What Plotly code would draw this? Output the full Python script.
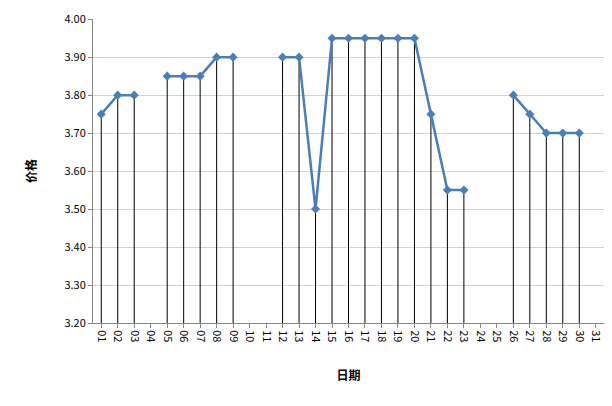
import plotly.graph_objects as go

days = ["%02d" % d for d in range(1, 32)]
price = [3.75, 3.80, 3.80, None, 3.85, 3.85, 3.85, 3.90, 3.90, None, None,
         3.90, 3.90, 3.50, 3.95, 3.95, 3.95, 3.95, 3.95, 3.95, 3.75, 3.55,
         3.55, None, None, 3.80, 3.75, 3.70, 3.70, 3.70, None]
ticks_y = [3.2, 3.3, 3.4, 3.5, 3.6, 3.7, 3.8, 3.9, 4.0]
base = 3.20

drop = [None if p is None else p - base for p in price]

fig = go.Figure()
fig.add_trace(go.Scatter(
    x=days, y=price, mode="lines+markers",
    line=dict(color="#4a7ebb", width=2.5),
    marker=dict(symbol="diamond", size=7, color="#4a7ebb"),
    error_y=dict(type="data", symmetric=False, array=[0] * 31,
                 arrayminus=drop, color="black", thickness=1, width=0),
    connectgaps=False,
))

font = "Noto Sans CJK SC"
fig.update_layout(
    width=612, height=406, showlegend=False,
    paper_bgcolor="white", plot_bgcolor="white",
    margin=dict(l=85, r=16, t=11, b=91),
    font=dict(family=font, size=11, color="black"),
    xaxis=dict(type="category", tickangle=90, showline=True, linecolor="#888",
               range=[-0.5, 30.5], automargin=False,
               ticks="outside", ticklen=4, tickcolor="#888",
               title=dict(text="<b>日期</b>", font=dict(size=12), standoff=30)),
    yaxis=dict(range=[3.2, 4.0005], tickvals=ticks_y, tickformat=".2f",
               automargin=False, showline=True, linecolor="#888",
               ticks="outside", ticklen=4, tickcolor="#888",
               gridcolor="#c9d3e3",
               title=dict(text="<b>价格</b>", font=dict(size=12), standoff=25)),
)
fig.write_html("out.html")
